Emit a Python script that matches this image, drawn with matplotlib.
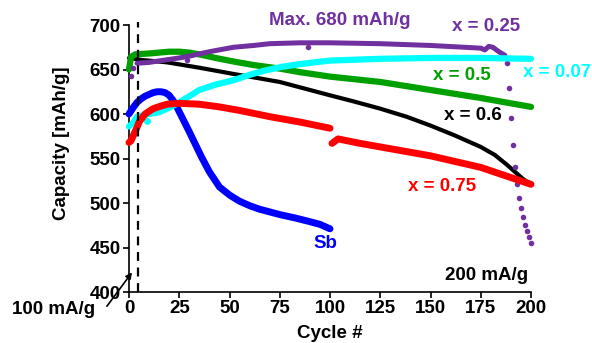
import numpy as np
import matplotlib
matplotlib.use("Agg")
import matplotlib.pyplot as plt

plt.rcParams["font.family"] = ["Liberation Sans", "DejaVu Sans"]
plt.rcParams["font.weight"] = "bold"

# --- Data --------------------------------------------------------------------

sb_cyc = [0, 2, 4, 6, 8, 10, 12, 14, 16, 18, 20, 22, 24, 26, 28, 30, 33, 36,
          40, 45, 50, 55, 60, 65, 70, 75, 83, 90, 95, 100]
sb_cap = [600, 607, 613, 617, 620, 622, 624, 625, 625, 624, 621, 615, 607, 598,
          589, 580, 566, 552, 535, 518, 509, 502, 497, 493, 490, 487, 483, 479,
          476, 471]

x075_cyc_a = [0, 1, 2, 4, 5, 8, 12, 16, 19, 25, 35, 45, 55, 70, 85, 100]
x075_cap_a = [568, 570, 575, 585, 591, 600, 606, 609, 611, 612, 611, 608, 604, 597, 591, 584]
x075_cyc_b = [101, 104, 115, 125, 150, 175, 200]
x075_cap_b = [567, 572, 567, 563, 553, 540, 521]

x06_cyc = [0, 5, 19, 35, 52, 65, 75, 85, 100, 112, 125, 138, 150, 162, 175,
           182, 188, 192, 196, 200]
x06_cap = [663, 661, 658, 652, 645, 640, 636, 630, 621, 614, 606, 597, 587, 576,
           563, 554, 543, 535, 527, 521]

x05_cyc = [0, 1, 3, 10, 15, 20, 25, 30, 35, 43, 52, 62, 75, 85, 100, 125, 150, 175, 200]
x05_cap = [650, 664, 667, 668, 669, 670, 670, 669, 667, 663, 659, 655, 651, 647, 642, 636, 627, 618, 608]

x007_cyc = [0, 2, 4, 10, 15, 20, 25, 30, 35, 43, 52, 60, 68, 76, 85, 92, 100,
            112, 125, 150, 175, 200]
x007_cap = [586, 590, 597, 600, 602, 607, 613, 620, 627, 633, 638, 644, 649,
            653, 656, 658, 660, 661, 662, 663, 663, 662]
x007_pts_cyc = [9]
x007_pts_cap = [592]

x025_cyc = [4, 10, 19, 25, 30, 40, 52, 62, 70, 85, 100, 125, 150, 175, 177,
            179, 181, 184, 187]
x025_cap = [657, 658, 661, 663, 665, 670, 675, 677, 679, 680, 680, 679, 677,
            674, 672, 676, 675, 670, 666]
x025_pts_cyc = [1, 2, 29, 89, 188, 189, 190, 191, 192, 193, 194, 195, 196,
                197, 198, 199, 200]
x025_pts_cap = [643, 652, 661, 675, 657, 629, 595, 565, 540, 521, 506, 494,
                484, 475, 469, 462, 455]

rate_switch = 4.5

# --- Colours ------------------------------------------------------------------

C_SB = "#0000FF"
C_075 = "#FF0000"
C_06 = "#000000"
C_05 = "#00A000"
C_007 = "#00FFFF"
C_025 = "#7030A0"

FS = 13.5

# --- Plot ---------------------------------------------------------------------

fig = plt.figure(figsize=(5.92, 3.43), dpi=100)
ax = fig.add_axes([129 / 592, 1 - 292 / 343, (531 - 129) / 592, (292 - 25) / 343])

kw = dict(solid_capstyle="round", solid_joinstyle="round", clip_on=False)
ax.plot(x06_cyc, x06_cap, color=C_06, lw=3.0, zorder=3, **kw)
ax.plot(x05_cyc, x05_cap, color=C_05, lw=4.5, zorder=3, **kw)
ax.plot(x025_cyc, x025_cap, color=C_025, lw=3.6, zorder=4, **kw)
ax.plot(x025_pts_cyc, x025_pts_cap, "o", color=C_025, ms=4, mec="none",
        zorder=4, clip_on=False)
ax.plot(sb_cyc, sb_cap, color=C_SB, lw=5, zorder=4, **kw)
ax.plot(x007_cyc, x007_cap, color=C_007, lw=4.5, zorder=5, **kw)
ax.plot(x007_pts_cyc, x007_pts_cap, "o", color=C_007, ms=5, mec="none",
        zorder=5, clip_on=False)
ax.plot(x075_cyc_a, x075_cap_a, color=C_075, lw=5, zorder=6, **kw)
ax.plot(x075_cyc_b, x075_cap_b, color=C_075, lw=5, zorder=6, **kw)

# rate change 100 -> 200 mA/g
ax.plot([rate_switch, rate_switch], [400, 703], color="black", lw=1.6,
        ls=(0, (4, 3)), zorder=7, clip_on=False)

ax.set_xlim(0, 200)
ax.set_ylim(400, 700)
ax.set_xticks(np.arange(0, 201, 25))
ax.set_yticks(np.arange(400, 701, 50))
for s in ("top", "right"):
    ax.spines[s].set_visible(False)
for s in ("left", "bottom"):
    ax.spines[s].set_linewidth(1.2)
ax.tick_params(direction="out", length=4, width=1.2, labelsize=FS, pad=2)
for lab in ax.get_xticklabels() + ax.get_yticklabels():
    lab.set_fontweight("bold")

fig.text(330 / 592, 1 - 334 / 343, "Cycle #", ha="center", va="center",
         fontsize=FS, fontweight="bold")
fig.text(62 / 592, 1 - 143 / 343, "Capacity [mAh/g]", ha="center", va="center",
         rotation=90, fontsize=FS, fontweight="bold")

# series labels
tkw = dict(ha="center", va="center", fontsize=FS, fontweight="bold", clip_on=False)
ax.text(105, 704.5, "Max. 680 mAh/g", color=C_025, **tkw)
ax.text(177.6, 698, "x = 0.25", color=C_025, **tkw)
ax.text(213, 647, "x = 0.07", color=C_007, **tkw)
ax.text(165.7, 643, "x = 0.5", color=C_05, **tkw)
ax.text(171, 598, "x = 0.6", color=C_06, **tkw)
ax.text(155.7, 518, "x = 0.75", color=C_075, **tkw)
ax.text(97.5, 455, "Sb", color=C_SB, **tkw)
ax.text(178, 419, "200 mA/g", color="black", **tkw)

ax.annotate("", xy=(1.5, 422), xytext=(-11, 384), annotation_clip=False,
            arrowprops=dict(arrowstyle="-|>", color="black", lw=1.2,
                            mutation_scale=9, shrinkA=0, shrinkB=0))
fig.text(54 / 592, 1 - 310 / 343, "100 mA/g", ha="center", va="center",
         fontsize=FS, fontweight="bold")

fig.savefig("out.png", dpi=100)
